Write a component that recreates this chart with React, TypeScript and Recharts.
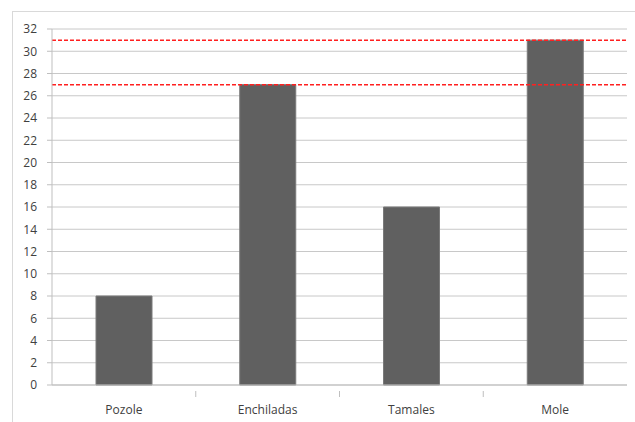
import React from "react";
import { BarChart, Bar, XAxis, YAxis, CartesianGrid, ReferenceLine } from "recharts";

const dishes = ["Pozole", "Enchiladas", "Tamales", "Mole"];
const votes = [8, 27, 16, 31];
const yTicks = [0, 2, 4, 6, 8, 10, 12, 14, 16, 18, 20, 22, 24, 26, 28, 30, 32];
const refLevels = [31, 27];

const data = dishes.map((name, i) => ({ name, value: votes[i] }));

const W = 635;
const H = 422;
const M = { top: 29, right: 8, bottom: 7, left: 12 };
const Y_W = 40;
const X_H = 30;
const band = (W - M.left - Y_W - M.right) / dishes.length;

const font = "'Open Sans', 'Liberation Sans', sans-serif";

// category label plus a boundary tick like Excel draws between categories
function CatTick(props: any) {
  const { x, y, payload, index } = props;
  const last = index === dishes.length - 1;
  return (
    <g>
      {!last && (
        <line x1={x + band / 2} x2={x + band / 2} y1={y - 2} y2={y + 4} stroke="#bfbfbf" />
      )}
      <text x={x} y={y + 21} textAnchor="middle" fontSize={12} fill="#404040" fontFamily={font}>
        {payload.value}
      </text>
    </g>
  );
}

export default function App() {
  return (
    <div style={{ position: "fixed", left: 0, top: 0, width: W, height: H, background: "#fff", overflow: "hidden" }}>
      <div
        style={{
          position: "absolute",
          left: 12,
          top: 11,
          width: W,
          height: H,
          border: "1px solid #d9d9d9",
          boxSizing: "border-box",
        }}
      />
      <div style={{ position: "absolute", left: 0, top: 0 }}>
        <BarChart width={W} height={H} data={data} margin={M}>
          <CartesianGrid vertical={false} stroke="#c8c8c8" />
          <XAxis
            dataKey="name"
            height={X_H}
            axisLine={{ stroke: "#bfbfbf" }}
            tickLine={false}
            interval={0}
            tick={<CatTick />}
          />
          <YAxis
            width={Y_W}
            domain={[0, 32]}
            ticks={yTicks}
            interval={0}
            axisLine={{ stroke: "#bfbfbf" }}
            tickLine={{ stroke: "#bfbfbf" }}
            tickSize={5}
            tickMargin={10}
            tick={{ fontSize: 12, fill: "#404040", fontFamily: font }}
          />
          <Bar dataKey="value" fill="#606060" stroke="#7a7a7a" barSize={56} isAnimationActive={false} />
          {refLevels.map((v) => (
            <ReferenceLine key={v} y={v} stroke="#ff2020" strokeWidth={1.5} strokeDasharray="4 2" ifOverflow="extendDomain" />
          ))}
        </BarChart>
      </div>
    </div>
  );
}
